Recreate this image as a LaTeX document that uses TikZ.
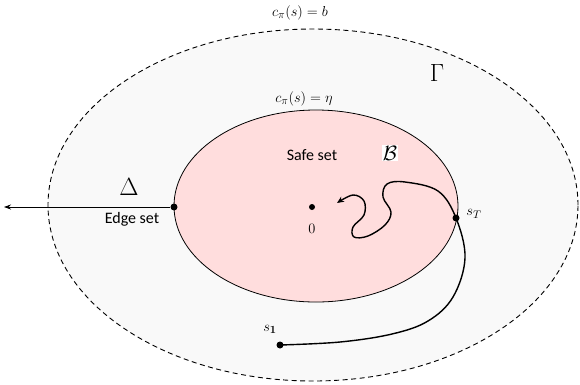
\documentclass[tikz,border=0pt]{standalone}
\usepackage{fontspec}
\usepackage{amsmath}
\newfontfamily\calfont{Carlito}
\usetikzlibrary{shapes.geometric,arrows.meta}
\definecolor{safepink}{RGB}{255,221,221}
\definecolor{outerfill}{RGB}{249,249,249}
\tikzset{
  region/.style={ellipse, inner sep=0pt},
  dotpt/.style={circle, fill=black, inner sep=0pt, minimum size=7pt},
  txt/.style={font=\calfont\fontsize{16}{18}\selectfont, inner sep=1pt},
  mlabel/.style={font=\fontsize{15.5}{17}\selectfont, inner sep=1pt},
  bigsym/.style={font=\fontsize{25}{27}\selectfont, inner sep=1pt},
}
\begin{document}
\begin{tikzpicture}[x=1pt,y=-1pt]
\useasboundingbox (0,0) rectangle (580,384);
\fill[white] (0,0) rectangle (580,384);
% outer region
\node[region, draw=black, dash pattern=on 5pt off 3.5pt, line width=0.9pt, fill=outerfill,
      minimum width=530pt, minimum height=352pt] (outer) at (313,205) {};
% inner region
\node[region, draw=black, line width=0.8pt, fill=safepink,
      minimum width=284pt, minimum height=192pt] (inner) at (316,206) {};
% points
\node[dotpt] (edge) at (174,207) {};
\coordinate (far) at (4,207);
\node[dotpt, minimum size=6pt] (origin) at (312,207) {};
\node[dotpt] (sT) at (456,218) {};
\node[dotpt] (s1) at (280,345) {};
% edge arrow
\draw[line width=0.8pt, -{Stealth[length=7pt,width=5pt]}] (edge) -- (far);
% trajectory
\draw[line width=1.4pt, line cap=round, -{Stealth[length=7pt,width=6pt]}]
  plot[smooth, tension=0.6] coordinates {
    (s1) (340,342) (392,334) (428,321) (453,297) (465,258) (456,218)
    (438,191) (405,182) (387,184) (383,197) (391,212) (385,225)
    (368,236) (354,237) (353,227) (364,215) (364,201) (353,195) (337,203)};
% labels
\node[mlabel] (lb) at (300,13) {$c_\pi(s) = b$};
\node[mlabel] (leta) at (304,99) {$c_\pi(s) = \eta$};
\node[bigsym] (gam) at (437,73) {$\Gamma$};
\node[bigsym] (del) at (129,187) {$\Delta$};
\node[txt] (edgel) at (132,219) {Edge set};
\node[txt] (safel) at (312,155) {Safe set};
\node[font=\fontsize{22}{24}\selectfont, fill=white, inner sep=1pt] (bl) at (390,153) {$\mathcal{B}$};
\node[mlabel] (zero) at (312,229) {$0$};
\node[mlabel] (sTl) at (474,214) {$s_T$};
\node[mlabel] (s1l) at (270,329) {$s_{\boldsymbol{1}}$};
\end{tikzpicture}
\end{document}
